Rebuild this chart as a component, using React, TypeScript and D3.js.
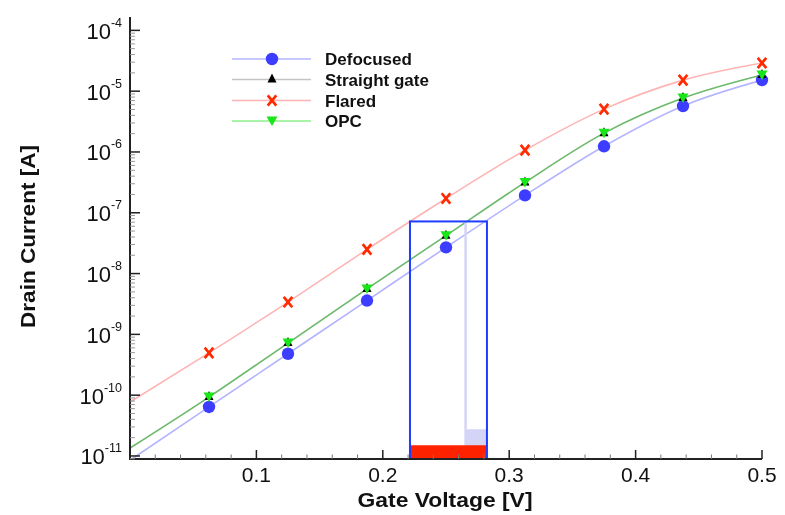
import * as d3 from 'd3';
import React from 'react';

// gate voltage at the markers
const gateVoltage = [0.0625, 0.125, 0.1875, 0.25, 0.3125, 0.375, 0.4375, 0.5];

// drain current [A]
const defocused = [6.4e-11, 4.8e-10, 3.6e-9, 2.7e-8, 1.93e-7, 1.24e-6, 5.7e-6, 1.52e-5];
const straightGate = [9.3e-11, 7.2e-10, 5.6e-9, 4.2e-8, 3.16e-7, 2.04e-6, 7.7e-6, 1.85e-5];
const flared = [4.95e-10, 3.4e-9, 2.5e-8, 1.72e-7, 1.07e-6, 5.07e-6, 1.52e-5, 2.91e-5];
const opc = [9.3e-11, 7.2e-10, 5.6e-9, 4.2e-8, 3.16e-7, 2.04e-6, 7.7e-6, 1.85e-5];

// where each curve meets the y axis (V = 0)
const defocusedAtZero = 8.5e-12;
const straightAtZero = 1.35e-11;
const flaredAtZero = 7.7e-11;
const opcAtZero = 1.35e-11;

const xTicks = [0.1, 0.2, 0.3, 0.4, 0.5];
const yExponents = [-4, -5, -6, -7, -8, -9, -10, -11];

// highlighted window
const windowRange = [0.2215, 0.2824];
const windowTop = 7.2e-8;
const redBarTop = 1.5e-11;
const shadeStart = 0.2645;
const shadeTop = 2.75e-11;

const params = {
  left: 130,
  right: 762,
  top: 17,
  bottom: 459,
};

const font = '"Liberation Sans", Arial, Helvetica, sans-serif';

const series = [
  { name: 'Defocused', values: defocused, zero: defocusedAtZero, line: '#b4b4ff', marker: 'circle', color: '#3d3dff' },
  { name: 'Straight gate', values: straightGate, zero: straightAtZero, line: '#c4c4c4', marker: 'up', color: '#000000' },
  { name: 'Flared', values: flared, zero: flaredAtZero, line: '#ffb4b4', marker: 'x', color: '#ff2a00' },
  { name: 'OPC', values: opc, zero: opcAtZero, line: '#8ef08e', marker: 'down', color: '#19e619' },
];

const Marker = ({ type, x, y, color }: { type: string; x: number; y: number; color: string }) => {
  if (type === 'circle') return <circle cx={x} cy={y} r={6.2} fill={color} />;
  if (type === 'up')
    return <path d={`M${x},${y - 6}L${x + 4.5},${y + 3}L${x - 4.5},${y + 3}Z`} fill={color} />;
  if (type === 'down')
    return <path d={`M${x - 5.5},${y - 4.5}L${x + 5.5},${y - 4.5}L${x},${y + 5}Z`} fill={color} />;
  const w = 4.3;
  const h = 5.2;
  return (
    <path
      d={`M${x - w},${y - h}L${x + w},${y + h}M${x + w},${y - h}L${x - w},${y + h}`}
      stroke={color}
      strokeWidth={2.7}
      fill="none"
    />
  );
};

export default function App() {
  const x = d3.scaleLinear().domain([0, 0.5]).range([params.left, params.right]);
  const y = d3
    .scaleLog()
    .domain([Math.pow(10, -11.05), Math.pow(10, -3.78)])
    .range([params.bottom, params.top]);

  const line = d3
    .line<[number, number]>()
    .x((d) => x(d[0]))
    .y((d) => y(d[1]))
    .curve(d3.curveMonotoneX);

  const xMinor = d3.range(0, 26).map((i) => i * 0.02).filter((v) => v > 0 && Math.abs(v * 10 - Math.round(v * 10)) > 1e-6);
  const yMinor: number[] = [];
  for (let e = -12; e <= -4; e++) {
    for (let m = 2; m <= 9; m++) {
      const v = m * Math.pow(10, e);
      if (v >= y.domain()[0] && v <= y.domain()[1]) yMinor.push(v);
    }
  }

  const legendRows = [59, 79.5, 100.5, 121];

  return (
    <svg width={785} height={515} style={{ position: 'absolute', left: 0, top: 0, background: '#fff' }}>
      <defs>
        <clipPath id="plot">
          <rect x={params.left} y={params.top} width={params.right - params.left} height={params.bottom - params.top} />
        </clipPath>
      </defs>

      <g clipPath="url(#plot)">
        {series.map((s) => (
          <path
            key={s.name}
            d={line([[0, s.zero], ...gateVoltage.map((v, i) => [v, s.values[i]] as [number, number])]) || ''}
            fill="none"
            stroke={s.line}
            strokeWidth={1.6}
            style={{ mixBlendMode: 'multiply' }}
          />
        ))}
      </g>

      {/* highlighted window */}
      <rect
        x={x(shadeStart)}
        y={y(shadeTop)}
        width={x(windowRange[1]) - x(shadeStart)}
        height={params.bottom - y(shadeTop)}
        fill="#d4d4f6"
      />
      <rect
        x={x(shadeStart)}
        y={y(windowTop)}
        width={2.5}
        height={y(shadeTop) - y(windowTop)}
        fill="#d4d4f6"
      />
      <rect
        x={x(windowRange[0])}
        y={y(redBarTop)}
        width={x(windowRange[1]) - x(windowRange[0])}
        height={params.bottom - y(redBarTop)}
        fill="#ff2200"
      />
      <rect
        x={x(windowRange[0])}
        y={y(windowTop)}
        width={x(windowRange[1]) - x(windowRange[0])}
        height={params.bottom - y(windowTop)}
        fill="none"
        stroke="#1f3cff"
        strokeWidth={2}
      />

      {series.map((s) => (
        <g key={s.name}>
          {gateVoltage.map((v, i) => (
            <Marker key={i} type={s.marker} x={x(v)} y={y(s.values[i])} color={s.color} />
          ))}
        </g>
      ))}

      {/* axes */}
      <g stroke="#222" fill="none">
        <line x1={params.left} x2={params.left} y1={params.top} y2={params.bottom + 1} strokeWidth={2} />
        <line x1={params.left - 1} x2={params.right} y1={params.bottom} y2={params.bottom} strokeWidth={2} />
        {xTicks.map((t) => (
          <line key={t} x1={x(t)} x2={x(t)} y1={params.bottom} y2={params.bottom - 9} strokeWidth={1.5} />
        ))}
        {xMinor.map((t) => (
          <line key={t} x1={x(t)} x2={x(t)} y1={params.bottom} y2={params.bottom - 4.5} strokeWidth={1} stroke="#777" />
        ))}
        {yExponents.map((e) => (
          <line key={e} x1={params.left} x2={params.left + 10} y1={y(Math.pow(10, e))} y2={y(Math.pow(10, e))} strokeWidth={1.5} />
        ))}
        {yMinor.map((v) => (
          <line key={v} x1={params.left} x2={params.left + 5} y1={y(v)} y2={y(v)} strokeWidth={1} stroke="#999" />
        ))}
      </g>

      <g fontFamily={font} fill="#111">
        {xTicks.map((t) => (
          <text key={t} x={x(t)} y={482} fontSize={21} textAnchor="middle">
            {String(t)}
          </text>
        ))}
        {yExponents.map((e) => (
          <text key={e} x={122} y={y(Math.pow(10, e)) + 8.5} fontSize={22} textAnchor="end">
            10
            <tspan fontSize={12.5} dy={-12}>
              {String(e)}
            </tspan>
          </text>
        ))}
        <text x={445} y={507} fontSize={21} fontWeight="bold" textAnchor="middle" textLength={175} lengthAdjust="spacingAndGlyphs">
          Gate Voltage [V]
        </text>
        <text
          transform="translate(35,236.5) rotate(-90)"
          fontSize={20}
          fontWeight="bold"
          textAnchor="middle"
          textLength={183}
          lengthAdjust="spacingAndGlyphs"
        >
          Drain Current [A]
        </text>
      </g>

      {/* legend */}
      <g fontFamily={font}>
        {series.map((s, i) => (
          <g key={s.name}>
            <line x1={232} x2={311} y1={legendRows[i]} y2={legendRows[i]} stroke={s.line} strokeWidth={1.6} />
            <Marker type={s.marker} x={272} y={legendRows[i]} color={s.color} />
            <text x={325} y={legendRows[i] + 6} fontSize={17} fontWeight="bold" fill="#111">
              {s.name}
            </text>
          </g>
        ))}
      </g>
    </svg>
  );
}
